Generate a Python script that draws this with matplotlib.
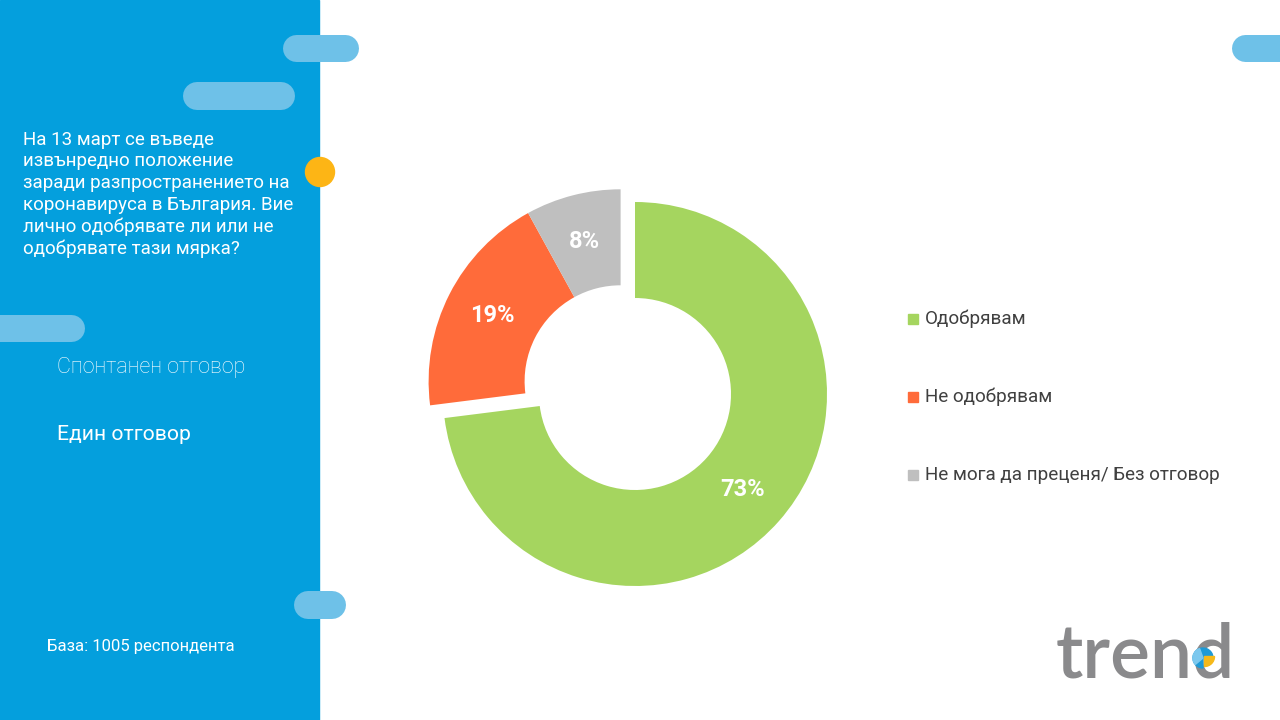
import matplotlib
matplotlib.use("Agg")
import matplotlib.pyplot as plt
import numpy as np
from matplotlib.patches import Circle, Rectangle, Wedge

# ---- data ----
categories = ["Одобрявам", "Не одобрявам", "Не мога да преценя/ Без отговор"]
values = [73, 19, 8]
labels = ["73%", "19%", "8%"]
colors = ["#A5D55F", "#FF6B3A", "#BFBFBF"]
title_text = ("На 13 март се въведе\nизвънредно положение\nзаради разпространението на\n"
              "коронавируса в България. Вие\nлично одобрявате ли или не\nодобрявате тази мярка?")
note1 = "Спонтанен отговор"
note2 = "Един отговор"
base_text = "База: 1005 респондента"

plt.rcParams['font.family'] = ['Roboto', 'DejaVu Sans']

W, H = 1280, 720
DPI = 100
fig = plt.figure(figsize=(12.8, 7.2), dpi=DPI)
fig.patch.set_facecolor("white")

# background axes in pixel coords
bg = fig.add_axes([0, 0, 1, 1])
bg.set_xlim(0, W)
bg.set_ylim(H, 0)
bg.axis("off")

panel_blue = "#049FDD"
pill_blue = "#6EC1E8"
bg.add_patch(Rectangle((0, 0), 319, H, color=panel_blue, zorder=1))

def pill(x0, y0, x1, y1):
    h = y1 - y0
    r = h / 2
    bg.plot([x0 + r, x1 - r], [y0 + r, y0 + r], color=pill_blue,
            lw=h * 72 / DPI, solid_capstyle="round", zorder=2)

pill(282, 34, 358, 61)
pill(183, 82, 295, 110)
pill(-30, 314, 84, 341)
pill(294, 591, 346, 619)
pill(1231, 34, 1310, 61)
bg.add_patch(Circle((320, 172), 14.5, color="#FDB515", zorder=3))

bg.text(23, 131, title_text, color="white", fontsize=13.5, va="top", ha="left",
        linespacing=1.25, zorder=4)
bg.text(57, 368, note1, color="white", fontsize=15.5, fontweight="light", va="center", ha="left", zorder=4)
bg.text(57, 435, note2, color="white", fontsize=15.2, va="center", ha="left", zorder=4)
bg.text(47, 647, base_text, color="white", fontsize=12, va="center", ha="left", zorder=4)

# legend
leg_y = [319, 397, 475]
for c, lab, y in zip(colors, categories, leg_y):
    bg.add_patch(Rectangle((908, y - 5), 10, 10, color=c, zorder=4))
    bg.text(925, y, lab, color="#404040", fontsize=13.6, va="center", ha="left", zorder=4)

# logo
bg.text(1056, 678, "trend", color="#8A8A8C", fontsize=54, family="Lato", fontweight="semibold",
        va="baseline", ha="left", zorder=4)
icx, icy = 1203, 658
bg.add_patch(Wedge((icx, icy), 10, 90, 360, color="#1E9AD6", zorder=5))
bg.add_patch(Wedge((icx + 1.5, icy - 1.5), 10, 0, 90, color="#F6B91A", zorder=5))
bg.add_patch(Wedge((icx, icy), 10, 140, 250, color="#7CC8EE", zorder=6))

# ---- donut ----
cx, cy, R = 635, 394, 194
half = 240
ax = fig.add_axes([(cx - half) / W, (H - cy - half) / H, 2 * half / W, 2 * half / H])
ax.set_xlim(-half / R, half / R)
ax.set_ylim(-half / R, half / R)
ax.set_aspect("equal")
ax.axis("off")

wedges, _ = ax.pie(values, colors=colors, startangle=90, counterclock=False,
                   radius=1, wedgeprops=dict(width=0.5, edgecolor="none"))

total = sum(values)
fr = np.cumsum([0] + values) / total
# orange + grey are pulled out together along their common mid-angle
grp_mid = np.deg2rad(90 - 360 * (fr[1] + fr[3]) / 2)
d = 0.1
off = np.array([d * np.cos(grp_mid), d * np.sin(grp_mid)])
for w in wedges[1:]:
    w.set_center(tuple(off))

for i, lab in enumerate(labels):
    mid = np.deg2rad(90 - 360 * (fr[i] + fr[i + 1]) / 2)
    pos = np.array([0.75 * np.cos(mid), 0.75 * np.sin(mid)])
    if i > 0:
        pos = pos + off
    ax.text(pos[0], pos[1], lab, color="white", fontsize=17, fontweight="bold",
            ha="center", va="center")

fig.savefig("out.png", dpi=DPI)
